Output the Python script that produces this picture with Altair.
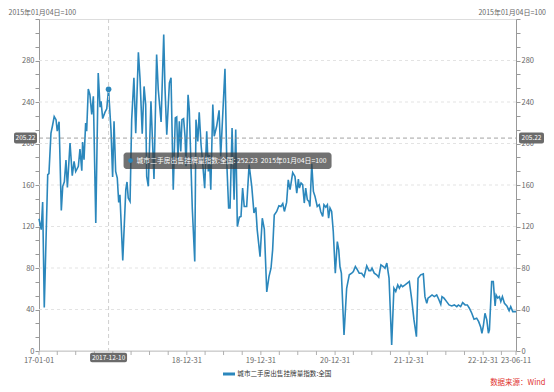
import pandas as pd
import altair as alt

FONT = "Noto Sans CJK SC"
LINE = "#2b87bc"
SERIES = "城市二手房出售挂牌量指数:全国"
UNIT = "2015年01月04日=100"
SOURCE = "数据来源：Wind"

dates = [
    "2017-01-01", "2017-01-12", "2017-01-19", "2017-01-27", "2017-02-13", "2017-02-19", "2017-03-01",
    "2017-03-08", "2017-03-17", "2017-03-26", "2017-04-01", "2017-04-10", "2017-04-21", "2017-04-28",
    "2017-05-06", "2017-05-14", "2017-05-21", "2017-06-03", "2017-06-14", "2017-06-23", "2017-07-01",
    "2017-07-14", "2017-07-22", "2017-07-31", "2017-08-04", "2017-08-11", "2017-08-19", "2017-08-24",
    "2017-09-01", "2017-09-09", "2017-09-18", "2017-09-26", "2017-10-08", "2017-10-20", "2017-10-29",
    "2017-11-03", "2017-11-11", "2017-11-22", "2017-12-01", "2017-12-10", "2017-12-22", "2017-12-30",
    "2018-01-06", "2018-01-14", "2018-01-22", "2018-01-29", "2018-02-04", "2018-02-18", "2018-03-05",
    "2018-03-11", "2018-03-17", "2018-03-26", "2018-04-03", "2018-04-14", "2018-04-23", "2018-05-06",
    "2018-05-14", "2018-05-25", "2018-06-03", "2018-06-11", "2018-06-16", "2018-06-24", "2018-07-07",
    "2018-07-22", "2018-08-04", "2018-08-12", "2018-08-26", "2018-09-08", "2018-09-14", "2018-09-23",
    "2018-10-06", "2018-10-14", "2018-10-25", "2018-11-04", "2018-11-11", "2018-11-17", "2018-11-24",
    "2018-12-01", "2018-12-07", "2018-12-15", "2018-12-22", "2018-12-27", "2019-01-06", "2019-01-12",
    "2019-01-27", "2019-02-08", "2019-02-14", "2019-02-23", "2019-03-02", "2019-03-11", "2019-03-19",
    "2019-03-29", "2019-04-08", "2019-04-16", "2019-04-21", "2019-04-28", "2019-05-08", "2019-05-15",
    "2019-05-27", "2019-06-08", "2019-06-16", "2019-06-22", "2019-07-07", "2019-07-16", "2019-07-25",
    "2019-08-01", "2019-08-11", "2019-08-21", "2019-08-29", "2019-09-06", "2019-09-16", "2019-09-24",
    "2019-10-02", "2019-10-10", "2019-10-22", "2019-11-03", "2019-11-16", "2019-11-27", "2019-12-06",
    "2019-12-13", "2019-12-27", "2020-01-07", "2020-01-17", "2020-01-29", "2020-02-09", "2020-02-19",
    "2020-02-27", "2020-03-06", "2020-03-18", "2020-03-29", "2020-04-08", "2020-04-17", "2020-04-25",
    "2020-05-06", "2020-05-14", "2020-05-23", "2020-06-05", "2020-06-16", "2020-06-25", "2020-07-03",
    "2020-07-08", "2020-07-16", "2020-07-24", "2020-08-01", "2020-08-08", "2020-08-16", "2020-08-24",
    "2020-08-29", "2020-09-07", "2020-09-15", "2020-09-23", "2020-10-04", "2020-10-14", "2020-10-21",
    "2020-10-31", "2020-11-06", "2020-11-15", "2020-11-23", "2020-11-29", "2020-12-06", "2020-12-14",
    "2020-12-22", "2021-01-01", "2021-01-11", "2021-01-18", "2021-01-24", "2021-01-31", "2021-02-13",
    "2021-02-26", "2021-03-11", "2021-03-23", "2021-03-31", "2021-04-10", "2021-04-20", "2021-04-29",
    "2021-05-11", "2021-05-23", "2021-06-05", "2021-06-16", "2021-06-25", "2021-07-01", "2021-07-12",
    "2021-07-24", "2021-08-03", "2021-08-14", "2021-08-26", "2021-09-03", "2021-09-12", "2021-09-23",
    "2021-10-06", "2021-10-17", "2021-10-26", "2021-11-05", "2021-11-13", "2021-11-21", "2021-11-29",
    "2021-12-11", "2021-12-22", "2022-01-01", "2022-01-13", "2022-01-24", "2022-02-05", "2022-02-13",
    "2022-02-26", "2022-03-11", "2022-03-19", "2022-03-28", "2022-04-03", "2022-04-13", "2022-04-23",
    "2022-05-04", "2022-05-16", "2022-05-26", "2022-06-05", "2022-06-11", "2022-06-21", "2022-07-04",
    "2022-07-16", "2022-07-29", "2022-08-11", "2022-08-23", "2022-08-31", "2022-09-11", "2022-09-21",
    "2022-10-03", "2022-10-14", "2022-10-24", "2022-11-05", "2022-11-16", "2022-11-29", "2022-12-09",
    "2022-12-19", "2022-12-25", "2023-01-01", "2023-01-09", "2023-01-18", "2023-01-26", "2023-01-31",
    "2023-02-11", "2023-02-19", "2023-02-28", "2023-03-05", "2023-03-13", "2023-03-21", "2023-03-28",
    "2023-04-05", "2023-04-15", "2023-04-27", "2023-05-08", "2023-05-16", "2023-05-26", "2023-06-11",
]
values = [
    127.5, 117, 143.6, 42, 170, 171, 210,
    216.6, 226, 223, 212, 221, 135.5, 158.7,
    163, 184, 157.7, 200.5, 169, 182.8, 173,
    178, 194.7, 173.8, 201.5, 184.4, 219.8, 211.8,
    252.6, 247, 228, 245.5, 123.3, 268, 235,
    240.7, 224, 230, 233.4, 252.23, 213, 167.7,
    221.4, 173, 166.7, 143.2, 150.6, 87.2, 155.5,
    162.9, 147.4, 144.2, 223, 263.3, 210, 288,
    263, 209.5, 255, 237.5, 168.3, 158.7, 240.7,
    165.8, 285.8, 252, 220.8, 305, 255, 208.5,
    258.4, 263.3, 155.5, 224.6, 225.6, 184.4, 221.4,
    192.4, 223, 224, 207, 178, 247, 232.7,
    136.8, 86.2, 223, 202, 230, 199, 181,
    157, 211.8, 173, 189, 155.5, 237.5, 207,
    216.6, 232, 187.6, 211.8, 272, 181, 137.8,
    137.8, 215, 145.8, 213.4, 120, 129, 129.7,
    157, 139.3, 139.3, 179.6, 158.7, 133, 138.4,
    116.8, 91, 128, 117.5, 57, 71.7, 79.8,
    97.5, 131, 134.5, 140, 139.3, 142, 134.5,
    143.2, 165, 155.5, 172, 168.3, 152.2, 165.8,
    157, 161.9, 160.3, 142.6, 157, 145.8, 144.2,
    139.3, 180.5, 153.8, 149, 139.3, 141, 134.5,
    129.7, 141, 138.7, 141, 128, 137.8, 134.5,
    115.2, 75, 105.5, 97.5, 81.4, 75, 15.4,
    60.5, 73.4, 75, 76.6, 81.4, 78.2, 75,
    75, 71.7, 82, 77.5, 77.5, 79.8, 75,
    73.4, 71.1, 83, 81.4, 79.8, 84.7, 70.2,
    5.8, 60.5, 57.3, 63.7, 60.5, 63.7, 62,
    63.7, 65.4, 67, 49.2, 30, 13.8, 70.2,
    73.4, 74.3, 52.4, 46, 50.9, 52.4, 54,
    52.4, 54, 49.9, 45, 52.4, 50.9, 47.6,
    44.4, 43.4, 44.4, 42.8, 44.4, 42.8, 46.6,
    44.4, 44.4, 41.2, 36.4, 30.6, 31.6, 28.3,
    22.9, 17.1, 24.1, 36.4, 30, 17.1, 20.3,
    67, 67, 43.4, 54, 51, 52.4, 47.6,
    52.4, 46, 43.4, 38.9, 42.8, 38, 38,
]

# axis ticks / labels
x_start, x_end = "2017-01-01", "2023-06-11"
x_ticks = [
    "2017-01-01", "2017-04-01", "2017-07-01", "2017-10-01", "2017-12-31",
    "2018-03-31", "2018-06-30", "2018-09-30", "2018-12-31",
    "2019-03-31", "2019-06-30", "2019-09-30", "2019-12-31",
    "2020-03-31", "2020-06-30", "2020-09-30", "2020-12-31",
    "2021-03-31", "2021-06-30", "2021-09-30", "2021-12-31",
    "2022-03-31", "2022-06-30", "2022-09-30", "2022-12-31",
    "2023-03-31", "2023-06-11",
]
x_label_dates = ["2017-01-01", "2018-12-31", "2019-12-31", "2020-12-31",
                 "2021-12-31", "2022-12-31", "2023-06-11"]
x_labels = ["17-01-01", "18-12-31", "19-12-31", "20-12-31", "21-12-31", "22-12-31", "23-06-11"]
y_max = 320
y_grid = [40, 80, 120, 160, 200, 240, 280]
y_ticks = [round(i * 40 / 3, 3) for i in range(25)]

# pointer (hover) state
cross_date = "2017-12-10"
cross_value = 205.22
hover_value = 252.23

W, H = 477, 332

def ms(s):
    return int(pd.Timestamp(s, tz="UTC").value // 10**6)

df = pd.DataFrame({"date": dates, "value": values})

xscale = alt.Scale(type="utc", domain=[ms(x_start), ms(x_end)], nice=False)
yscale = alt.Scale(domain=[0, y_max], nice=False, zero=True)

y_label_expr = "datum.value % 40 == 0 && datum.value <= 280 ? datum.label : ''"

def y_axis(orient):
    return alt.Axis(
        orient=orient, values=y_ticks, labelExpr=y_label_expr, grid=False, title=None,
        domainColor="#999", tickColor="#999", tickSize=4, labelPadding=1,
        labelColor="#666", labelFont=FONT, labelFontSize=7.5, labelOverlap=False,
    )

grid = alt.Chart(pd.DataFrame({"y": y_grid})).mark_rule(
    color="#e3e3e3", strokeDash=[3, 3], strokeWidth=1
).encode(y=alt.Y("y:Q", scale=yscale, axis=None), x=alt.value(0), x2=alt.value(W))

line = alt.Chart(df).mark_line(color=LINE, strokeWidth=1.6).encode(
    x=alt.X("date:T", scale=xscale, axis=None),
    y=alt.Y("value:Q", scale=yscale, axis=y_axis("left")),
)
right = alt.Chart(df).mark_line(opacity=0).encode(
    x=alt.X("date:T", scale=xscale, axis=None),
    y=alt.Y("value:Q", scale=yscale, axis=y_axis("right")),
)

# x axis: domain line, quarterly ticks, labels
x_domain = alt.Chart(pd.DataFrame({"k": [0]})).mark_rule(color="#c8c8c8", strokeWidth=1).encode(
    x=alt.value(0), x2=alt.value(W), y=alt.value(H))
x_tick_marks = alt.Chart(pd.DataFrame({"d": x_ticks})).mark_rule(color="#b0b0b0", strokeWidth=1).encode(
    x=alt.X("d:T", scale=xscale, axis=None), y=alt.value(H), y2=alt.value(H + 4))
x_tick_labels = alt.Chart(pd.DataFrame({"d": x_label_dates, "lab": x_labels})).mark_text(
    font=FONT, fontSize=7.5, color="#666", align="center", baseline="middle"
).encode(x=alt.X("d:T", scale=xscale, axis=None), y=alt.value(H + 10), text="lab:N")

cross_df = pd.DataFrame({"date": [cross_date], "v": [cross_value], "hv": [hover_value]})
vrule = alt.Chart(cross_df).mark_rule(color="#cfcfcf", strokeDash=[4, 3]).encode(
    x=alt.X("date:T", scale=xscale, axis=None), y=alt.value(0), y2=alt.value(H))
hrule = alt.Chart(cross_df).mark_rule(color="#8a8a8a", strokeDash=[4, 3], strokeWidth=0.8).encode(
    y=alt.Y("v:Q", scale=yscale, axis=None), x=alt.value(0), x2=alt.value(W))
marker = alt.Chart(cross_df).mark_point(filled=True, size=32, color=LINE, opacity=1).encode(
    x=alt.X("date:T", scale=xscale, axis=None), y=alt.Y("hv:Q", scale=yscale, axis=None))

# pixel positions of pointer labels derived from the scales
span = (pd.Timestamp(x_end) - pd.Timestamp(x_start)).days
cx = W * (pd.Timestamp(cross_date) - pd.Timestamp(x_start)).days / span
cy = H * (1 - cross_value / y_max)

BOX = "#6b6b6b"
def box(x0, x1, y0, y1, fill=BOX, opacity=1.0, radius=2):
    return alt.Chart(pd.DataFrame({"k": [0]})).mark_rect(
        fill=fill, opacity=opacity, cornerRadius=radius
    ).encode(x=alt.value(x0), x2=alt.value(x1), y=alt.value(y0), y2=alt.value(y1))

def text(t, x, y, size=7.5, color="#666", align="left", weight="normal"):
    return alt.Chart(pd.DataFrame({"t": [t]})).mark_text(
        font=FONT, fontSize=size, color=color, align=align, baseline="middle", fontWeight=weight
    ).encode(text="t:N", x=alt.value(x), y=alt.value(y))

val_txt = f"{cross_value:.2f}"
layers = [
    grid, x_domain, x_tick_marks, x_tick_labels, line, right, vrule, hrule, marker,
    box(-25, -2, cy - 5.5, cy + 5.5), text(val_txt, -13.5, cy, 6.5, "white", "center"),
    box(W + 3, W + 28, cy - 5.5, cy + 5.5), text(val_txt, W + 15.5, cy, 6.5, "white", "center"),
    box(cx - 18.5, cx + 18.5, H + 1.7, H + 11.3), text(cross_date, cx, H + 6.5, 6.5, "white", "center"),
    box(cx + 15, cx + 223, cy + 14.5, cy + 31, fill="#3a3a3a", opacity=0.72, radius=3),
    alt.Chart(pd.DataFrame({"k": [0]})).mark_point(filled=True, size=22, color=LINE, opacity=1).encode(
        x=alt.value(cx + 22), y=alt.value(cy + 22.5)),
    text(f"{SERIES}: {hover_value:.2f}\u00a0\u00a0{UNIT}", cx + 28, cy + 22.5, 6.8, "white", "left"),
    text(UNIT, -30.5, -6.3, 7, "#666", "left"),
    text(UNIT, W + 30, -6.3, 7, "#666", "right"),
    alt.Chart(pd.DataFrame({"k": [0]})).mark_rule(color=LINE, strokeWidth=3).encode(
        x=alt.value(184), x2=alt.value(196), y=alt.value(H + 23)),
    text(SERIES, 198.3, H + 23, 6.6, "#333", "left"),
    text(SOURCE, W + 29.5, H + 31.7, 7.5, "#e0302d", "right"),
]

chart = alt.layer(*layers).resolve_axis(y="independent").properties(
    width=W, height=H,
    autosize=alt.AutoSizeParams(type="none"),
    padding={"left": 31, "top": 11, "right": 30, "bottom": 36},
).configure_view(stroke=None).configure(background="white")

chart.save("out.html", embed_options={"renderer": "svg", "actions": False})
